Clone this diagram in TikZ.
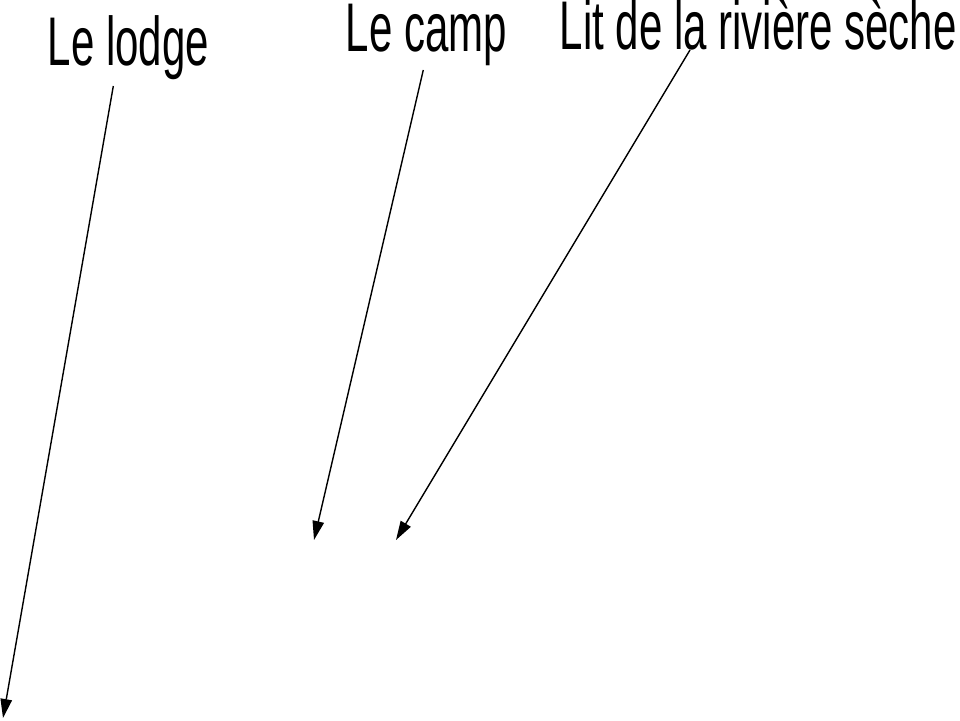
\documentclass[tikz,border=0pt]{standalone}
\usepackage{fontspec}
\newfontfamily\narrowsans[FakeStretch=0.61]{Liberation Sans}
\usetikzlibrary{arrows.meta}

\tikzset{
	label/.style={anchor=base west,inner sep=0pt,font=\narrowsans\fontsize{19.6}{23}\selectfont},
}

\begin{document}
\begin{tikzpicture}[x=0.1mm,y=-0.1mm,line width=0.4pt,->,>={Triangle[length=1.9mm,width=1.15mm]}]
	\useasboundingbox (0,0) rectangle (960,720);
	\node[label] (lodge) at (47,65) {Le lodge};
	\node[label] (camp) at (345,51) {Le camp};
	\node[label] (lit) at (559,49) {Lit de la rivière sèche};
	\coordinate (x) at (3,718);
	\coordinate (y) at (314,540);
	\coordinate (z) at (396,540);
	\path ([shift={(-15,6)}]lodge.south) edge (x);
	\path ([shift={(-3,4)}]camp.south) edge (y);
	\path ([shift={(131,1)}]lit.base west) edge (z);
\end{tikzpicture}
\end{document}
